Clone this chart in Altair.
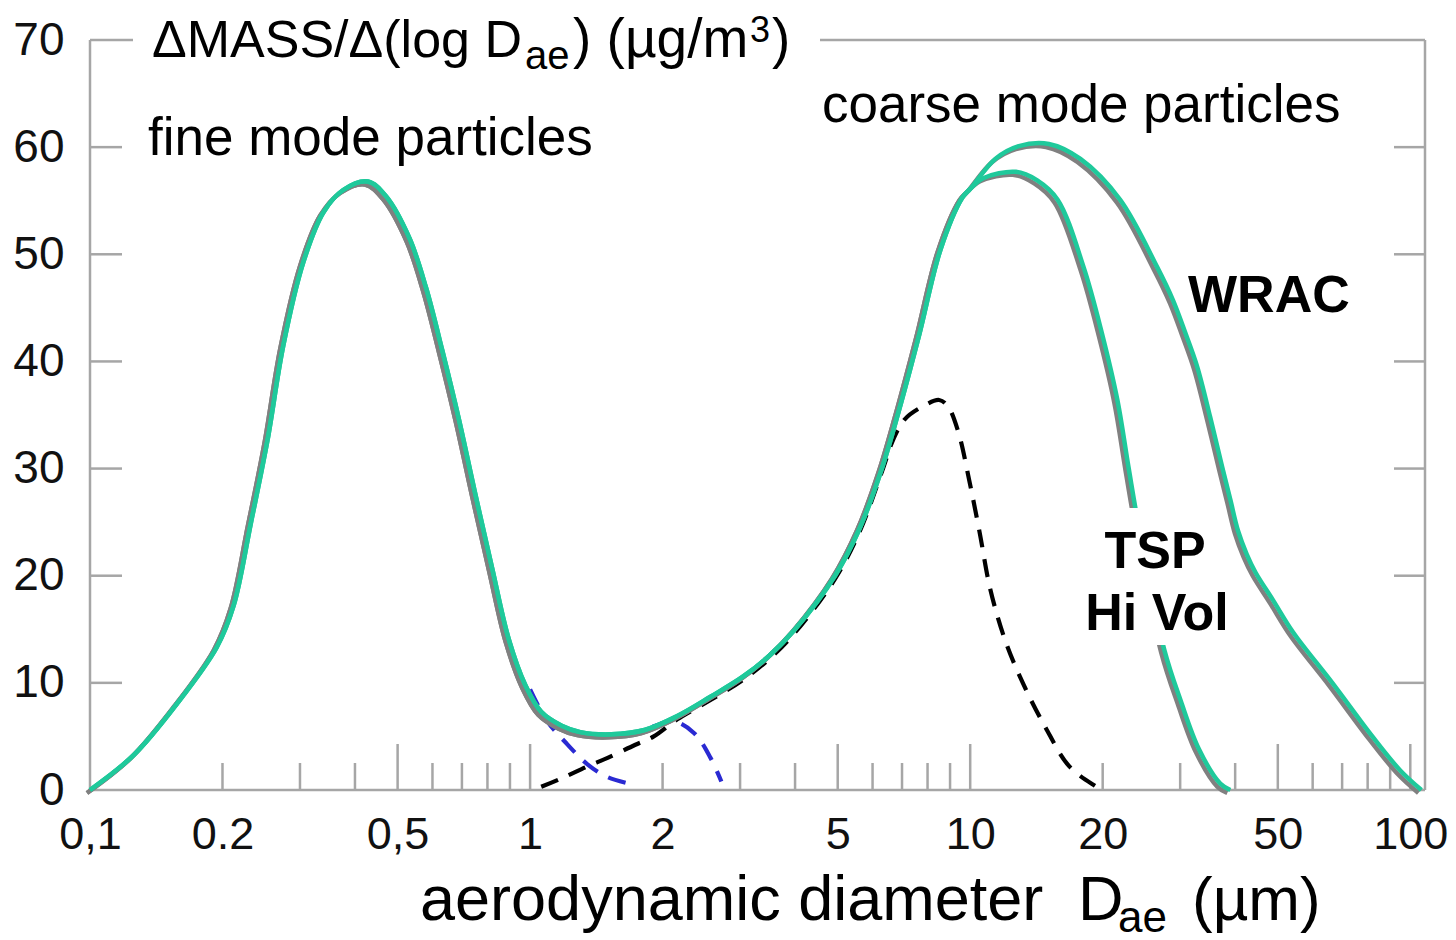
import altair as alt
import pandas as pd

# Mass size distribution, aerodynamic diameter (µm) vs dM/dlogD (µg/m³)
# Part shared by both samplers (fine mode, saddle and rising coarse flank)
common_d = [0.1, 0.126, 0.158, 0.194, 0.212, 0.232, 0.253, 0.275, 0.305, 0.339,
            0.376, 0.428, 0.471, 0.532, 0.58, 0.631, 0.689, 0.751, 0.82, 0.894,
            0.975, 1.06, 1.18, 1.3, 1.53, 1.82, 2.16, 2.57, 3.05, 3.51,
            4.0, 4.93, 5.62, 6.3, 6.95, 7.66, 8.57, 9.6, 10.0]
common_m = [0.0, 3.3, 8.1, 13.3, 17.2, 24.9, 32.6, 41.5, 49.2, 53.9,
            56.0, 56.8, 55.4, 51.5, 46.9, 41.1, 34.6, 27.6, 20.7, 14.1,
            9.8, 7.3, 6.0, 5.4, 5.2, 5.6, 6.9, 8.7, 10.6, 12.6,
            15.0, 20.0, 24.5, 30.0, 36.0, 42.5, 50.5, 55.3, 56.1]

# Coarse-mode branch, TSP Hi Vol sampler
tsp_d = [10.7, 12.7, 14.2, 15.8, 18.1, 19.9, 21.6, 22.9, 24.3, 27.6, 30.1, 33.1, 37.0, 39.0]
tsp_m = [57.1, 57.7, 56.9, 55.1, 48.8, 42.7, 36.4, 30.1, 24.0, 13.1, 8.3, 3.8, 0.6, 0.0]

# Coarse-mode branch, WRAC sampler
wrac_d = [11.4, 12.9, 15.1, 17.8, 21.9, 26.6, 28.9, 30.8, 32.8, 35.1, 37.4,
          39.0, 40.6, 42.5, 44.5, 48.8, 54.2, 66.5, 82.0, 95.0, 106.0]
wrac_m = [58.9, 60.1, 60.3, 58.9, 55.1, 48.8, 45.7, 42.7, 39.5, 34.8, 30.1,
          27.1, 24.2, 22.0, 20.3, 17.7, 14.7, 10.0, 5.0, 1.8, 0.0]

# Dashed coarse-mode component
coarse_d = [1.06, 1.18, 1.35, 1.5, 1.73, 1.91, 2.16, 2.57, 3.05, 3.51, 4.0, 4.93,
            5.62, 6.3, 6.7, 7.1, 7.8, 8.5, 8.9, 9.4, 9.95, 10.5, 11.1, 12.0,
            13.2, 14.8, 16.8, 19.2, 20.0]
coarse_m = [0.3, 1.1, 2.2, 3.0, 4.2, 5.0, 6.6, 8.4, 10.3, 12.3, 14.7, 19.7,
            24.2, 29.7, 32.8, 34.6, 35.8, 36.4, 35.8, 33.4, 28.9, 24.1, 18.8, 14.0,
            9.9, 5.9, 2.2, 0.4, 0.0]

# Dashed fine-mode tails
tail1_d = [1.0, 1.09, 1.2, 1.35, 1.5, 1.72]
tail1_m = [9.4, 6.5, 4.5, 2.4, 1.2, 0.5]
tail2_d = [1.9, 2.12, 2.36, 2.57, 2.72]
tail2_m = [5.9, 6.4, 5.3, 3.0, 0.8]

# Axis ticks and labels
x_label_vals = [0.1, 0.2, 0.5, 1, 2, 5, 10, 20, 50, 100]
x_label_text = ["0,1", "0.2", "0,5", "1", "2", "5", "10", "20", "50", "100"]
x_minor = [0.2, 0.3, 0.4, 0.6, 0.7, 0.8, 0.9, 2, 3, 4, 6, 7, 8, 9,
           20, 30, 40, 60, 70, 80, 90]
x_major = [0.5, 1, 5, 10, 50, 100]
y_vals = [0, 10, 20, 30, 40, 50, 60, 70]
y_inner = [10, 20, 30, 40, 50, 60]

W, H = 1335, 750
GREEN = "#1fc99b"
SHADOW = "#808080"
FRAME = "#a6a6a6"
FONT = "Liberation Sans"
CURVE = "catmull-rom"


def curve(xs, ys):
    return pd.DataFrame({"d": xs, "m": ys, "i": list(range(len(xs)))})


tsp = curve(common_d + tsp_d, common_m + tsp_m)
wrac = curve(common_d + wrac_d, common_m + wrac_m)

xscale = alt.Scale(type="log", domain=[0.1, 108], nice=False)
yscale = alt.Scale(domain=[0, 70], nice=False)

label_expr = " : ".join(
    f"abs(datum.value - {v}) < 1e-9 ? '{t}'" for v, t in zip(x_label_vals, x_label_text)
) + " : ''"

x_axis = alt.Axis(values=x_label_vals, labelExpr=label_expr, domain=False, ticks=False,
                  tickSize=0, grid=False, labelFont=FONT, labelFontSize=45,
                  labelColor="#111111", labelPadding=22, labelFlush=False,
                  labelOverlap=False)
y_axis = alt.Axis(values=y_vals, domain=False, ticks=False, tickSize=0, grid=False,
                  labelFont=FONT, labelFontSize=46, labelColor="#111111",
                  labelPadding=26)

X = lambda f: alt.X(f, scale=xscale, axis=x_axis, title=None)
Y = lambda f: alt.Y(f, scale=yscale, axis=y_axis, title=None)


def enc_line(df):
    return alt.Chart(df).encode(x=X("d:Q"), y=Y("m:Q"), order="i:Q")


one = pd.DataFrame({"k": [0]})

# Frame pieces (the top edge is broken by the y-axis title)
frame = [
    alt.Chart(one).mark_rule(color=FRAME, strokeWidth=2.5).encode(
        x=alt.value(0), y=alt.value(0), y2=alt.value(H)),
    alt.Chart(one).mark_rule(color=FRAME, strokeWidth=2.5).encode(
        x=alt.value(0), x2=alt.value(W), y=alt.value(H)),
    alt.Chart(one).mark_rule(color=FRAME, strokeWidth=2.5).encode(
        x=alt.value(W), y=alt.value(0), y2=alt.value(H)),
    alt.Chart(one).mark_rule(color=FRAME, strokeWidth=2.5).encode(
        x=alt.value(730), x2=alt.value(W), y=alt.value(0)),
    alt.Chart(one).mark_rule(color=FRAME, strokeWidth=2.5).encode(
        x=alt.value(0), x2=alt.value(43), y=alt.value(0)),
]

yt = pd.DataFrame({"v": y_inner})
ticks = [
    alt.Chart(yt).mark_rule(color=FRAME, strokeWidth=2.5).encode(
        y=Y("v:Q"), x=alt.value(0), x2=alt.value(32)),
    alt.Chart(yt).mark_rule(color=FRAME, strokeWidth=2.5).encode(
        y=Y("v:Q"), x=alt.value(W - 31), x2=alt.value(W)),
    alt.Chart(pd.DataFrame({"d": x_minor})).mark_rule(color=FRAME, strokeWidth=2.5).encode(
        x=X("d:Q"), y=alt.value(H), y2=alt.value(H - 27)),
    alt.Chart(pd.DataFrame({"d": x_major})).mark_rule(color=FRAME, strokeWidth=2.5).encode(
        x=X("d:Q"), y=alt.value(H), y2=alt.value(H - 46)),
]

dashed = [
    enc_line(curve(coarse_d, coarse_m)).mark_line(
        color="#000000", strokeWidth=4.2, strokeDash=[18, 12], interpolate=CURVE),
    enc_line(curve(tail1_d, tail1_m)).mark_line(
        color="#2a2ad2", strokeWidth=4.2, strokeDash=[18, 12], interpolate=CURVE),
    enc_line(curve(tail2_d, tail2_m)).mark_line(
        color="#2a2ad2", strokeWidth=4.2, strokeDash=[18, 12], interpolate=CURVE),
]

curves = [
    enc_line(tsp).mark_line(color=SHADOW, strokeWidth=4.5, xOffset=-3, yOffset=3,
                            interpolate=CURVE),
    enc_line(wrac).mark_line(color=SHADOW, strokeWidth=4.5, xOffset=-3, yOffset=3,
                             interpolate=CURVE),
    enc_line(tsp).mark_line(color=GREEN, strokeWidth=4.5, interpolate=CURVE),
    enc_line(wrac).mark_line(color=GREEN, strokeWidth=4.5, interpolate=CURVE),
]

# white patch behind the TSP Hi Vol label
patch = alt.Chart(one).mark_rect(color="white").encode(
    x=alt.value(1035), x2=alt.value(1097), y=alt.value(468), y2=alt.value(605))


def txt(s, x, y, size, bold=False, align="left"):
    return alt.Chart(one).mark_text(
        text=s, font=FONT, fontSize=size, fontWeight="bold" if bold else "normal",
        align=align, baseline="alphabetic", color="#000000",
    ).encode(x=alt.value(x), y=alt.value(y))


labels = [
    # y-axis title
    txt("ΔMASS/Δ(log D", 62, 17, 52),
    txt("ae", 435, 29, 40),
    txt(") (µg/m", 483, 17, 55),
    txt("3", 660, 2, 36),
    txt(")", 682, 17, 55),
    # x-axis title
    txt("aerodynamic diameter", 330, 880, 63),
    txt("D", 988, 880, 63),
    txt("ae", 1028, 892, 44),
    txt("(µm)", 1102, 880, 62),
    # annotations
    txt("fine mode particles", 58, 115, 53),
    txt("coarse mode particles", 732, 82, 53),
    txt("WRAC", 1098, 272, 52, bold=True),
    txt("TSP", 1065, 528, 52, bold=True, align="center"),
    txt("Hi Vol", 1067, 590, 52, bold=True, align="center"),
]

chart = alt.layer(*(frame + ticks + dashed + curves + [patch] + labels)).properties(
    width=W, height=H,
    autosize=alt.AutoSizeParams(type="none"),
    padding={"left": 90, "top": 40, "right": 31, "bottom": 150},
    background="white",
).configure_view(stroke=None)

chart.save("out.html", embed_options={"renderer": "svg", "actions": False})
